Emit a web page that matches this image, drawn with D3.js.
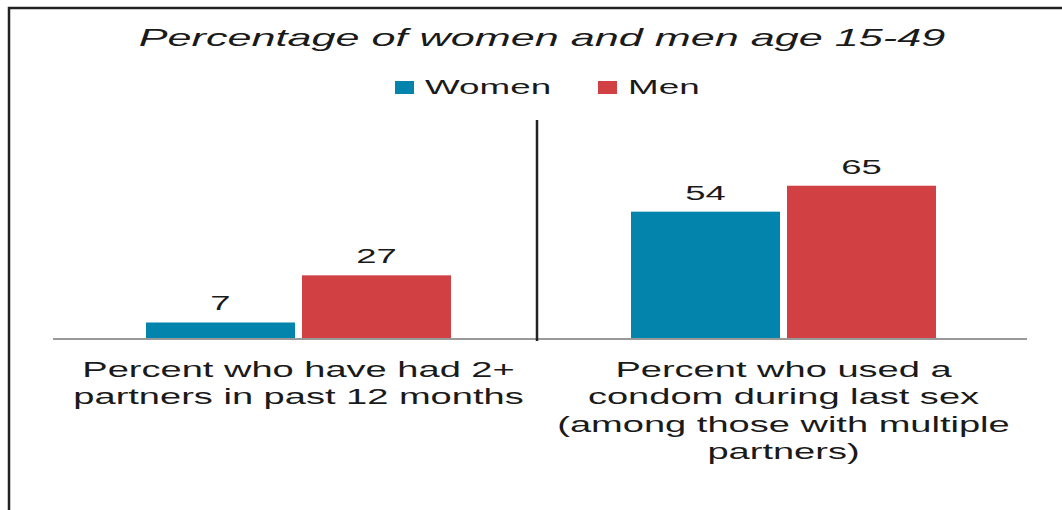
<!DOCTYPE html>
<html lang="en">
<head>
    <meta charset="UTF-8">
    <title>Percentage of women and men age 15-49</title>
    <style>
        body { margin: 0; background: #fff; }
        text { font-family: "Liberation Sans", Arial, sans-serif; fill: #1a1a1a; }
    </style>
</head>
<body>
    <div id="chart"></div>
    <script src="https://d3js.org/d3.v7.min.js"></script>
    <script>
        var categories = [
            ["Percent who have had 2+", "partners in past 12 months"],
            ["Percent who used a", "condom during last sex", "(among those with multiple", "partners)"]
        ];
        var series = ["Women", "Men"];
        var women = [7, 54];
        var men = [27, 65];
        var colors = ["#0284ad", "#d14043"];

        var width = 1062, height = 510;
        var stretch = 1.77;   // text in the picture is drawn wide

        var svg = d3.select('#chart')
            .append('svg')
                .attr('width', width)
                .attr('height', height);

        // frame
        svg.append('rect')
            .attr('x', 9).attr('y', 8)
            .attr('width', 1100).attr('height', 600)
            .attr('fill', 'none')
            .attr('stroke', '#222')
            .attr('stroke-width', 2.5);

        function wideText(x, y, size) {
            return svg.append('text')
                .attr('transform', 'translate(' + x + ',' + y + ') scale(' + stretch + ',1)')
                .attr('text-anchor', 'middle')
                .style('font-size', size + 'px');
        }

        wideText(542, 46, 24.4)
            .style('font-style', 'italic')
            .text('Percentage of women and men age 15-49');

        // legend
        var legendX = [395, 598];
        series.forEach(function(s, i) {
            svg.append('rect')
                .attr('x', legendX[i]).attr('y', 81)
                .attr('width', 19).attr('height', 13)
                .attr('fill', colors[i]);
            wideText(legendX[i] + 30, 94, 20.8)
                .attr('text-anchor', 'start')
                .text(s);
        });

        var baseY = 339;
        var x0 = d3.scaleBand()
            .domain(d3.range(categories.length))
            .range([56, 1026]);

        var x1 = d3.scaleBand()
            .domain(series)
            .range([90, 395])
            .paddingInner(0.045);

        var y = d3.scaleLinear()
            .domain([0, 70])
            .range([baseY, baseY - 70 * 2.358]);

        var data = [];
        categories.forEach(function(c, i) {
            data.push({cat: i, s: 'Women', v: women[i], color: colors[0]});
            data.push({cat: i, s: 'Men', v: men[i], color: colors[1]});
        });

        svg.append('g')
            .selectAll('rect')
            .data(data)
            .enter()
            .append('rect')
                .attr('x', function(d) { return x0(d.cat) + x1(d.s); })
                .attr('y', function(d) { return y(d.v); })
                .attr('width', x1.bandwidth())
                .attr('height', function(d) { return baseY - y(d.v); })
                .attr('fill', function(d) { return d.color; });

        data.forEach(function(d) {
            wideText(x0(d.cat) + x1(d.s) + x1.bandwidth() / 2, y(d.v) - 12, 20.6)
                .text(d.v);
        });

        // baseline
        svg.append('line')
            .attr('x1', 53).attr('x2', 1027)
            .attr('y1', baseY).attr('y2', baseY)
            .attr('stroke', '#999')
            .attr('stroke-width', 2);

        // divider between the two groups
        svg.append('line')
            .attr('x1', x0(1) - 4).attr('x2', x0(1) - 4)
            .attr('y1', 120).attr('y2', baseY + 2)
            .attr('stroke', '#222')
            .attr('stroke-width', 2.5);

        // category labels
        categories.forEach(function(lines, i) {
            var t = wideText(x0(i) + x0.bandwidth() / 2, 376.5, 21.5);
            lines.forEach(function(line, j) {
                t.append('tspan')
                    .attr('x', 0)
                    .attr('dy', j === 0 ? 0 : 27.6)
                    .text(line);
            });
        });
    </script>
</body>
</html>
